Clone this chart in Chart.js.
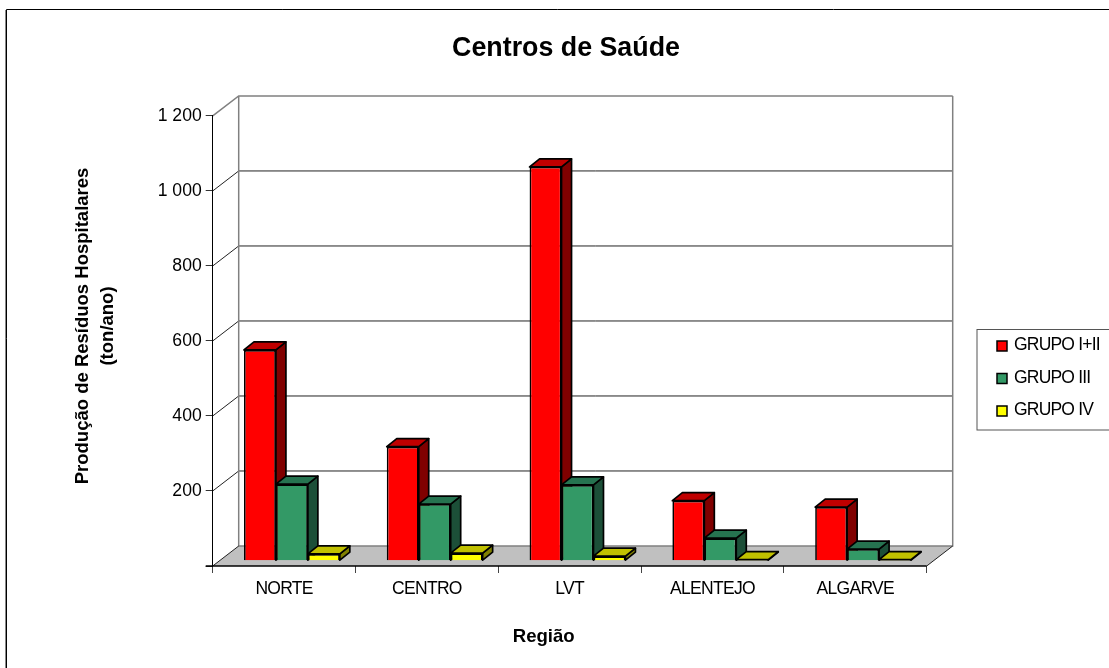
<!DOCTYPE html>
<html><head><meta charset="utf-8">
<style>html,body{margin:0;padding:0;background:#fff}#w{width:1109px;height:668px;position:relative}</style>
<script src="https://cdn.jsdelivr.net/npm/chart.js@4"></script>
</head><body><div id="w"><canvas id="c"></canvas></div>
<script>
const categories = ['NORTE','CENTRO','LVT','ALENTEJO','ALGARVE'];
const grupoI = [562,304,1050,160,143];
const grupoIII = [204,151,202,60,31];
const grupoIV = [18,20,12,3,3];
const seriesNames = ['GRUPO I+II','GRUPO III','GRUPO IV'];
const FONT = '"Liberation Sans", Arial, sans-serif';
const wallDX = 26, wallDY = -20;
const barDX = 7.8, barDY = -5.3, barDepthX = 10, barDepthY = -8;
const faces = [['#FF0000','#C00000','#800000'],['#339966','#267350','#1C4F38'],['#FFFF00','#C0C000','#808000']];
const EDGE = 1.7;

function wrapTitle(scale, dx, dy){
  if(scale._wrapped) return; scale._wrapped = true;
  const orig = scale.drawTitle;
  scale.drawTitle = function(a){
    const {left,right,top,bottom} = this;
    this.left=left+dx; this.right=right+dx; this.top=top+dy; this.bottom=bottom+dy;
    orig.call(this,a);
    this.left=left; this.right=right; this.top=top; this.bottom=bottom;
  };
}
const scene = {
  id:'scene',
  afterLayout(chart){
    const {x,y} = chart.scales;
    wrapTitle(y,0,-15);
    wrapTitle(x,-26,0);
    if(!x._sp){ x._sp=true; const o=x.drawLabels; x.drawLabels=function(a){ const c=this.ctx; c.letterSpacing='-0.7px'; o.call(this,a); c.letterSpacing='0px'; }; }
    chart.titleBlock.left = 0; chart.titleBlock.right = 1132;
  },
  beforeDraw(chart){
    const c = chart.ctx; const {x,y} = chart.scales;
    const a = chart.chartArea;
    c.save();
    c.fillStyle='#fff'; c.fillRect(0,0,1109,668);
    c.strokeStyle='#000'; c.lineWidth=1;
    c.beginPath(); c.moveTo(6.5,668); c.lineTo(6.5,9.5); c.lineTo(1109,9.5); c.stroke();
    c.strokeStyle='#888'; c.beginPath(); c.moveTo(5.5,668); c.lineTo(5.5,10); c.stroke();
    // floor
    const y0 = y.getPixelForValue(0);
    c.fillStyle='#C0C0C0';
    c.beginPath(); c.moveTo(a.left,y0); c.lineTo(a.right,y0); c.lineTo(a.right+wallDX,y0+wallDY); c.lineTo(a.left+wallDX,y0+wallDY); c.closePath(); c.fill();
    // gridlines on walls
    y.ticks.forEach(t=>{
      const py = y.getPixelForValue(t.value);
      if(t.value===0) return;
      const top = t.value===y.max;
      c.strokeStyle = top?'#808080':'#222'; c.lineWidth= top?1.5:1;
      c.beginPath(); c.moveTo(a.left,py); c.lineTo(a.left+wallDX,py+wallDY); c.lineTo(a.right+wallDX,py+wallDY); c.stroke();
    });
    c.strokeStyle='#808080'; c.lineWidth=1.5;
    c.beginPath(); c.moveTo(a.left+wallDX,y.getPixelForValue(y.max)+wallDY); c.lineTo(a.left+wallDX,y0+wallDY); c.lineTo(a.right+wallDX,y0+wallDY); c.lineTo(a.right+wallDX,y.getPixelForValue(y.max)+wallDY); c.stroke();
    c.strokeStyle='#222'; c.lineWidth=1;
    c.beginPath(); c.moveTo(a.left,y0); c.lineTo(a.left+wallDX,y0+wallDY); c.moveTo(a.right,y0); c.lineTo(a.right+wallDX,y0+wallDY); c.stroke();
    c.restore();
  },
  beforeDatasetsDraw(chart){
    const c = chart.ctx;
    c.save();
    c.translate(barDX,barDY);
    c.lineJoin='round'; c.lineWidth=EDGE; c.strokeStyle='#000';
    chart.data.labels.forEach((_,i)=>{
      chart.data.datasets.forEach((ds,k)=>{
        const b = chart.getDatasetMeta(k).data[i];
        if(!b) return;
        const l=b.x-b.width/2, r=b.x+b.width/2, t=b.y, bt=b.base;
        c.fillStyle=faces[k][2];
        c.beginPath(); c.moveTo(r,t); c.lineTo(r+barDepthX,t+barDepthY); c.lineTo(r+barDepthX,bt+barDepthY); c.lineTo(r,bt); c.closePath(); c.fill(); c.stroke();
        c.fillStyle=faces[k][1];
        c.beginPath(); c.moveTo(l,t); c.lineTo(l+barDepthX,t+barDepthY); c.lineTo(r+barDepthX,t+barDepthY); c.lineTo(r,t); c.closePath(); c.fill(); c.stroke();
      });
    });
  },
  afterDatasetsDraw(chart){ chart.ctx.restore();
    const c=chart.ctx, a=chart.chartArea;
    c.save(); c.strokeStyle='#000'; c.lineWidth=1.5; c.beginPath(); c.moveTo(a.left-7,a.bottom); c.lineTo(a.right,a.bottom); c.stroke(); c.restore();
  },
  afterDraw(chart){
    const c=chart.ctx;
    c.save();
    c.strokeStyle='#555'; c.lineWidth=1;
    c.strokeRect(977,329.5,133,100.5);
    c.font='17.5px '+FONT; c.textBaseline='middle';
    const rows=[346,378.5,411];
    seriesNames.forEach((n,k)=>{
      const yy=rows[k];
      c.fillStyle=faces[k][0]; c.strokeStyle='#000'; c.lineWidth=1.5;
      c.fillRect(997,yy-5,10,10); c.strokeRect(997,yy-5,10,10);
      c.fillStyle='#000';
      c.letterSpacing='-0.8px';
      c.fillText(n,1014,yy-0.5);
      c.letterSpacing='0px';
    });
    c.restore();
  }
};

new Chart(document.getElementById('c'),{
  type:'bar',
  data:{labels:categories,datasets:[
    {label:seriesNames[0],data:grupoI,backgroundColor:faces[0][0],borderColor:'#000',borderWidth:EDGE,clip:false},
    {label:seriesNames[1],data:grupoIII,backgroundColor:faces[1][0],borderColor:'#000',borderWidth:EDGE,clip:false},
    {label:seriesNames[2],data:grupoIV,backgroundColor:faces[2][0],borderColor:'#000',borderWidth:EDGE,clip:false}
  ]},
  plugins:[scene],
  options:{
    responsive:true,maintainAspectRatio:false,animation:false,
    layout:{padding:{left:0,right:182.3,top:0,bottom:0}},
    datasets:{bar:{categoryPercentage:96/143,barPercentage:1}},
    plugins:{
      legend:{display:false},tooltip:{enabled:false},
      title:{display:true,text:'Centros de Saúde',color:'#000',font:{family:FONT,size:26.8,weight:'bold',lineHeight:1.2},padding:{top:33,bottom:50.8}}
    },
    scales:{
      x:{
        afterFit(s){s.height=102;},
        grid:{drawOnChartArea:false,drawTicks:true,tickLength:7,color:'#444',offset:true},
        border:{display:false},
        ticks:{color:'#000',font:{family:FONT,size:17.5},padding:5.5,maxRotation:0},
        title:{display:true,text:'Região',color:'#000',font:{family:FONT,size:18.6,weight:'bold',lineHeight:1.2},padding:{top:0,bottom:20}}
      },
      y:{
        min:0,max:1200,
        afterFit(s){s.width=212.7;},
        grid:{drawOnChartArea:false,drawTicks:true,tickLength:7,color:'#333'},
        border:{display:true,color:'#000',width:1},
        ticks:{stepSize:200,color:'#000',font:{family:FONT,size:17.6},padding:4,
          callback:v=> v===0?'':String(v).replace(/\B(?=(\d{3})+$)/g,' ')},
        title:{display:true,text:['Produção de Resíduos Hospitalares','(ton/ano)'],color:'#000',font:{family:FONT,size:18.5,weight:'bold',lineHeight:1.35},padding:{top:70.5,bottom:0}}
      }
    }
  }
});
</script></body></html>
